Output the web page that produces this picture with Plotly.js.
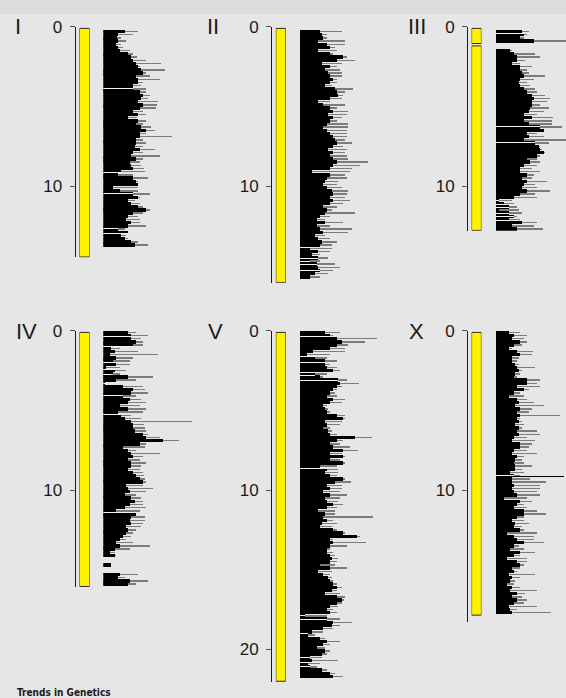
<!DOCTYPE html>
<html><head><meta charset="utf-8">
<script src="https://cdn.plot.ly/plotly-3.0.1.min.js"></script>
<style>html,body{margin:0;padding:0;background:#e6e6e6;}#chart{width:566px;height:698px;}</style>
</head><body><div id="chart"></div>
<script>
// ---------------- DATA ----------------
const chromNames = ['I','II','III','IV','V','X'];
const yTickVals = [0, 10, 20];
const yTickText = ['0', '10', '20'];
const binSize = 0.2; // Mb

// chromosome (yellow) segments, Mb
const segStarts = [[0.1],[0.1],[0.1,1.2],[0.1],[0.1],[0.1]];
const segEnds   = [[14.45],[16.05],[1.05,12.78],[16.05],[22.0],[17.85]];

// histogram: first bin start (Mb), black counts, grey counts
const I_start = 0.2;
const I_black = [22,15,14,15,13,15,17,25,28,30,33,35,38,40,33,35,35,30,30,37,40,38,35,40,37,30,35,25,35,33,38,43,37,37,33,33,32,37,30,28,33,27,28,30,18,15,30,33,35,10,17,30,35,25,28,35,43,30,25,23,28,25,15,25,18,22,28,32];
const I_gray  = [35,30,18,23,18,20,27,30,34,43,58,37,62,43,47,57,40,38,43,43,47,45,55,54,53,40,43,34,43,40,48,52,43,69,40,43,40,52,40,57,40,37,38,41,42,30,45,35,35,35,35,47,37,32,37,40,47,40,35,37,37,43,22,25,23,25,35,45];
const I_gaps  = [3.9, 9.13, 10.45, 12.65, 12.95];

const II_start = 0.2;
const II_black = [20,22,23,18,27,30,18,30,43,37,22,30,25,28,30,33,30,25,35,37,38,30,18,23,30,33,28,33,30,27,23,27,30,33,35,37,33,28,33,30,33,37,33,30,12,30,27,25,23,27,32,33,30,33,30,23,27,25,20,17,25,17,20,23,15,18,22,20,10,18,12,18,10,17,18,20,15,10];
const II_gray  = [42,27,27,45,45,35,37,33,47,55,42,37,40,42,42,37,37,32,53,45,43,42,30,45,37,48,47,42,37,48,48,47,47,47,45,52,43,47,45,47,48,68,60,52,50,45,47,38,37,42,48,47,45,50,43,37,32,55,30,25,43,30,52,48,25,30,37,32,32,30,20,28,20,35,40,33,28,20];
const II_gaps  = [13.85, 14.2, 14.55, 14.75, 14.9, 15.3];

const III_start = 0.2;
const III_black = [26,28,24,38,0,0,14,18,21,21,16,24,24,26,28,24,23,24,28,31,36,38,36,36,34,33,28,36,28,33,44,48,31,33,28,39,43,44,48,41,31,34,28,24,24,31,26,31,28,26,31,24,18,3,8,13,3,13,18,13,26,16,21];
const III_gray  = [33,31,28,75,0,0,16,39,44,29,24,36,31,33,49,38,31,34,39,41,49,54,51,44,53,48,41,57,56,56,66,48,41,48,75,53,44,46,49,44,41,44,41,36,44,38,36,51,39,41,54,39,41,16,18,21,23,26,21,24,41,38,47];
const III_gaps  = [0.42, 6.23, 7.28, 10.92, 11.13, 11.34, 11.72, 11.88, 12.13];

const IV_start = 0.0;
const IV_black = [25,28,28,33,30,8,12,7,13,10,13,3,12,10,25,13,2,20,30,28,20,27,25,17,25,15,18,22,28,30,30,32,40,43,60,37,20,25,28,30,25,28,28,25,30,33,37,40,23,25,27,22,28,32,27,22,13,33,28,27,28,23,25,23,20,17,13,17,12,7,12,0,0,8,0,0,17,15,27,25];
const IV_gray  = [33,45,38,40,40,17,35,55,30,27,27,17,23,17,50,33,2,40,42,45,33,38,43,37,43,40,28,38,89,41,42,43,45,57,76,43,42,33,57,40,37,43,38,37,40,41,42,43,40,50,43,33,38,40,40,43,37,33,42,42,40,38,33,30,28,23,30,47,27,12,13,0,0,8,0,0,35,22,45,33];
const IV_gaps  = [0.33, 0.96, 1.99, 2.43, 2.74, 3.3, 4.04, 5.23, 11.4];

const V_start = 0.0;
const V_black = [25,30,37,42,37,30,13,7,15,25,25,27,33,15,20,38,40,37,33,30,27,33,30,23,25,27,37,43,25,27,23,28,30,55,37,30,33,43,30,43,30,43,20,27,25,30,43,35,27,30,23,30,25,27,33,27,18,25,23,27,22,20,33,43,57,30,33,30,27,27,30,32,30,20,30,18,23,28,30,33,37,32,25,37,42,37,30,27,30,5,27,33,32,23,12,8,20,27,23,17,25,22,10,12,8,10,22,30,33];
const V_gray  = [40,33,77,65,48,45,45,30,27,37,30,37,40,27,23,47,59,42,37,35,37,45,42,27,28,30,45,45,42,40,30,32,37,72,43,40,50,58,42,45,40,45,37,38,38,37,45,51,42,42,40,47,40,38,43,37,35,35,73,33,37,32,37,45,60,33,66,47,30,33,35,38,37,35,47,32,30,32,33,37,42,37,40,45,44,42,38,33,37,27,40,52,40,33,23,15,25,40,30,25,30,27,22,38,20,17,27,35,43];
const V_gaps  = [0.33, 1.6, 2.0, 2.6, 2.8, 3.1, 8.64, 17.9, 18.1, 19.0, 20.5, 20.85, 21.05];

const X_start = 0.0;
const X_black = [13,18,16,24,18,13,21,24,16,16,19,21,23,19,18,31,31,21,28,18,13,21,23,19,24,21,24,21,23,19,23,21,23,18,16,24,24,18,16,21,19,18,19,19,14,18,16,16,18,16,18,21,8,24,21,18,28,28,21,16,19,18,24,11,18,21,28,18,14,24,18,11,21,24,16,18,13,16,14,11,16,14,21,16,21,18,13,14,16];
const X_gray  = [24,31,28,31,26,16,37,36,23,21,23,39,26,24,21,44,41,44,33,24,28,31,38,48,36,33,64,24,26,28,26,41,44,31,39,36,33,31,41,28,26,28,36,26,28,24,34,50,44,44,41,44,31,36,28,31,41,50,28,28,33,26,28,41,38,38,48,23,28,39,24,31,31,28,24,21,39,24,19,18,24,41,29,26,31,28,41,21,55];
const X_gaps  = [9.06];
const X_spikePos = [9.12];
const X_spikeVal = [68];

// ---------------- BUILD ----------------
const starts = [I_start, II_start, III_start, IV_start, V_start, X_start];
const blacks = [I_black, II_black, III_black, IV_black, V_black, X_black];
const grays  = [I_gray, II_gray, III_gray, IV_gray, V_gray, X_gray];
const gaps   = [I_gaps, II_gaps, III_gaps, IV_gaps, V_gaps, X_gaps];
const spikePos = [[],[],[],[],[],X_spikePos];
const spikeVal = [[],[],[],[],[],X_spikeVal];

const W = 566, H = 698, S = 15.93; // px per Mb
const rowY0 = [26.8, 330.8];
const panels = [
  {row:0, axisX:74.5,  chromX:[79.5,89.5],   histX:103.3, histW:95,   axisEnd:14.48, labelX:18},
  {row:0, axisX:271,   chromX:[275.8,285.8], histX:300,   histW:95,   axisEnd:16.07, labelX:213},
  {row:0, axisX:467,   chromX:[471.6,481.4], histX:495.7, histW:70.3, axisEnd:12.8,  labelX:417},
  {row:1, axisX:74.5,  chromX:[79.5,89.5],   histX:103.3, histW:95,   axisEnd:16.09, labelX:26},
  {row:1, axisX:271,   chromX:[275.8,285.8], histX:300,   histW:95,   axisEnd:22.05, labelX:215},
  {row:1, axisX:467,   chromX:[471.6,481.4], histX:495.7, histW:70.3, axisEnd:18.26, labelX:416}
];
const labelY = [26, 331];
const fontFam = 'Liberation Sans, Arial, Helvetica, sans-serif';

const traces = [];
const layout = {
  width: W, height: H, margin: {l:0, r:0, t:0, b:0},
  paper_bgcolor: '#e6e6e6', plot_bgcolor: 'rgba(0,0,0,0)',
  showlegend: false, barmode: 'overlay', bargap: 0,
  annotations: [], shapes: [
    {type:'rect', xref:'paper', yref:'paper', x0:0, x1:1, y0:1-14/H, y1:1, fillcolor:'#dcdcdc', line:{width:0}, layer:'below'}
  ]
};

panels.forEach((p, i) => {
  const yi = i + 1, xc = 2*i + 1, xh = 2*i + 2;
  const yName = yi === 1 ? 'yaxis' : 'yaxis' + yi;
  const yRef  = yi === 1 ? 'y' : 'y' + yi;
  const xcName = xc === 1 ? 'xaxis' : 'xaxis' + xc;
  const xcRef  = xc === 1 ? 'x' : 'x' + xc;
  const xhName = 'xaxis' + xh, xhRef = 'x' + xh;
  const y0 = rowY0[p.row];
  const yEndPx = y0 + p.axisEnd * S;
  const tv = yTickVals.filter(t => t <= p.axisEnd);
  layout[yName] = {
    domain: [1 - yEndPx/H, 1 - y0/H], range: [p.axisEnd, 0],
    anchor: 'free', position: p.axisX / W,
    showline: true, linecolor: '#1a1a1a', linewidth: 1,
    ticks: 'outside', ticklen: 5, tickwidth: 1, tickcolor: '#555',
    ticklabelstandoff: 4,
    tickvals: tv, ticktext: tv.map(t => yTickText[yTickVals.indexOf(t)]),
    showgrid: false, zeroline: false, fixedrange: true,
    tickfont: {family: fontFam, size: 17, color: '#1a1a1a'}
  };
  layout[xcName] = {domain: [p.chromX[0]/W, p.chromX[1]/W], range: [-0.5, 0.5], anchor: yRef, visible: false, fixedrange: true};
  layout[xhName] = {domain: [p.histX/W, Math.min(1, (p.histX + p.histW)/W)], range: [0, p.histW], anchor: yRef, visible: false, fixedrange: true};

  // chromosome bar(s)
  const st = segStarts[i], en = segEnds[i];
  traces.push({
    type: 'bar', orientation: 'v', x: st.map(() => 0), base: st, y: st.map((s, k) => en[k] - s),
    width: 1, xaxis: xcRef, yaxis: yRef, hoverinfo: 'skip',
    marker: {color: '#fff200', line: {color: '#2a2a2a', width: 1}}
  });

  const b = blacks[i], g = grays[i], s0 = starts[i];
  const centers = b.map((_, k) => s0 + binSize * (k + 0.5));
  // grey (longer) counts
  traces.push({
    type: 'bar', orientation: 'h', y: centers, x: g, width: binSize * 0.45,
    xaxis: xhRef, yaxis: yRef, hoverinfo: 'skip',
    marker: {color: '#7c7c7c', line: {width: 0}}
  });
  // black counts (slightly overlapping to avoid seams)
  traces.push({
    type: 'bar', orientation: 'h', y: centers, x: b, width: binSize * 1.08,
    xaxis: xhRef, yaxis: yRef, hoverinfo: 'skip',
    marker: {color: '#000000', line: {width: 0}}
  });
  // gaps (no data) as thin light lines
  const gp = gaps[i];
  if (gp.length) {
    traces.push({
      type: 'bar', orientation: 'h', y: gp,
      x: gp.map(v => { const k = Math.min(b.length - 1, Math.max(0, Math.floor((v - s0) / binSize))); return Math.max(b[k], 3); }),
      width: 0.06, xaxis: xhRef, yaxis: yRef, hoverinfo: 'skip',
      marker: {color: '#f2f2f2', line: {width: 0}}
    });
  }
  if (spikePos[i].length) {
    traces.push({
      type: 'bar', orientation: 'h', y: spikePos[i], x: spikeVal[i], width: 0.07,
      xaxis: xhRef, yaxis: yRef, hoverinfo: 'skip',
      marker: {color: '#000000', line: {width: 0}}
    });
  }

  layout.annotations.push({
    xref: 'paper', yref: 'paper', x: p.labelX / W, y: 1 - labelY[p.row] / H,
    xanchor: 'center', yanchor: 'middle', showarrow: false,
    text: chromNames[i], font: {family: fontFam, size: 22, color: '#1a1a1a'}
  });
});

layout.annotations.push({
  xref: 'paper', yref: 'paper', x: 15 / W, y: 1 - 692 / H, xanchor: 'left', yanchor: 'middle', showarrow: false,
  text: '<b>Trends in Genetics</b>',
  font: {family: 'Liberation Sans Narrow, Arial Narrow, DejaVu Sans Condensed, sans-serif', size: 10, color: '#1a1a1a'}
});

Plotly.newPlot('chart', traces, layout, {staticPlot: true, displayModeBar: false});
</script>
</body></html>
